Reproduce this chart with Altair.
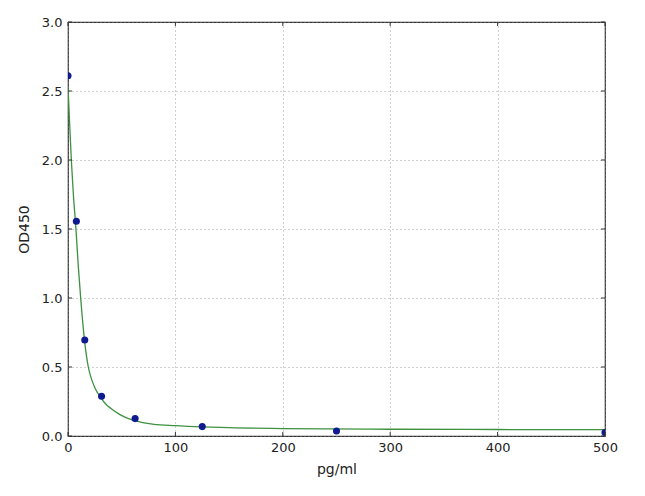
import altair as alt
import pandas as pd

# Standard points
std_conc = [0, 7.8, 15.6, 31.25, 62.5, 125, 250, 500]
std_od = [2.61, 1.556, 0.696, 0.288, 0.126, 0.068, 0.036, 0.025]

# Fitted curve
curve_conc = [0, 1.5, 3.1, 5, 7.4, 9.5, 11.8, 15, 18.9, 22, 25, 29.8, 36, 40, 48, 63, 80, 100, 125, 150, 200, 300, 400, 500]
curve_od = [2.53, 2.27, 2.0, 1.75, 1.5, 1.24, 1.0, 0.72, 0.5, 0.41, 0.35, 0.285, 0.225, 0.2, 0.157, 0.109, 0.085, 0.075, 0.066, 0.06, 0.054, 0.049, 0.047, 0.046]

x_ticks = [0, 100, 200, 300, 400, 500]
y_ticks = [0.0, 0.5, 1.0, 1.5, 2.0, 2.5, 3.0]

W, H = 537, 414

pts = pd.DataFrame({"conc": std_conc, "od": std_od})
crv = pd.DataFrame({"conc": curve_conc, "od": curve_od})
xt = pd.DataFrame({"v": x_ticks})
yt = pd.DataFrame({"v": y_ticks})

xs = alt.Scale(domain=[0, 500], nice=False, zero=False)
ys = alt.Scale(domain=[0, 3.0], nice=False, zero=False)

xaxis = alt.Axis(values=x_ticks, format="d", title="pg/ml", grid=True,
                 gridDash=[1, 3], gridColor="#888", gridWidth=0.8,
                 ticks=False, domain=False, labelPadding=5, titlePadding=8,
                 labelFont="DejaVu Sans", titleFont="DejaVu Sans",
                 labelFontSize=13, titleFontSize=14, labelColor="#222",
                 titleColor="#222", titleFontWeight="normal", labelFlush=False)
yaxis = alt.Axis(values=y_ticks, format=".1f", title="OD450", grid=True,
                 gridDash=[1, 3], gridColor="#888", gridWidth=0.8,
                 ticks=False, domain=False, labelPadding=6, titlePadding=10,
                 labelFont="DejaVu Sans", titleFont="DejaVu Sans",
                 labelFontSize=13, titleFontSize=14, labelColor="#222",
                 titleColor="#222", titleFontWeight="normal", labelFlush=False)

line = alt.Chart(crv).mark_line(color="#3d9140", strokeWidth=1.3, interpolate="monotone", clip=True).encode(
    x=alt.X("conc:Q", scale=xs, axis=xaxis),
    y=alt.Y("od:Q", scale=ys, axis=yaxis),
)
points = alt.Chart(pts).mark_circle(color="#101a90", size=50, opacity=1, clip=True).encode(
    x=alt.X("conc:Q", scale=xs),
    y=alt.Y("od:Q", scale=ys),
)

tick_col = "#333"
bt = alt.Chart(xt).mark_rule(color=tick_col, strokeWidth=1).encode(
    x=alt.X("v:Q", scale=xs), y=alt.value(H), y2=alt.value(H - 4))
tt = alt.Chart(xt).mark_rule(color=tick_col, strokeWidth=1).encode(
    x=alt.X("v:Q", scale=xs), y=alt.value(0), y2=alt.value(4))
lt = alt.Chart(yt).mark_rule(color=tick_col, strokeWidth=1).encode(
    y=alt.Y("v:Q", scale=ys), x=alt.value(0), x2=alt.value(4))
rt = alt.Chart(yt).mark_rule(color=tick_col, strokeWidth=1).encode(
    y=alt.Y("v:Q", scale=ys), x=alt.value(W), x2=alt.value(W - 4))

chart = alt.layer(line, points, bt, tt, lt, rt).properties(
    width=W, height=H,
    autosize=alt.AutoSizeParams(type="none"),
    padding={"left": 60, "top": 14, "right": 30, "bottom": 50},
    background="white",
).configure_view(stroke="#333", strokeWidth=1.2)

chart.save("out.html", embed_options={"renderer": "svg", "actions": False})
